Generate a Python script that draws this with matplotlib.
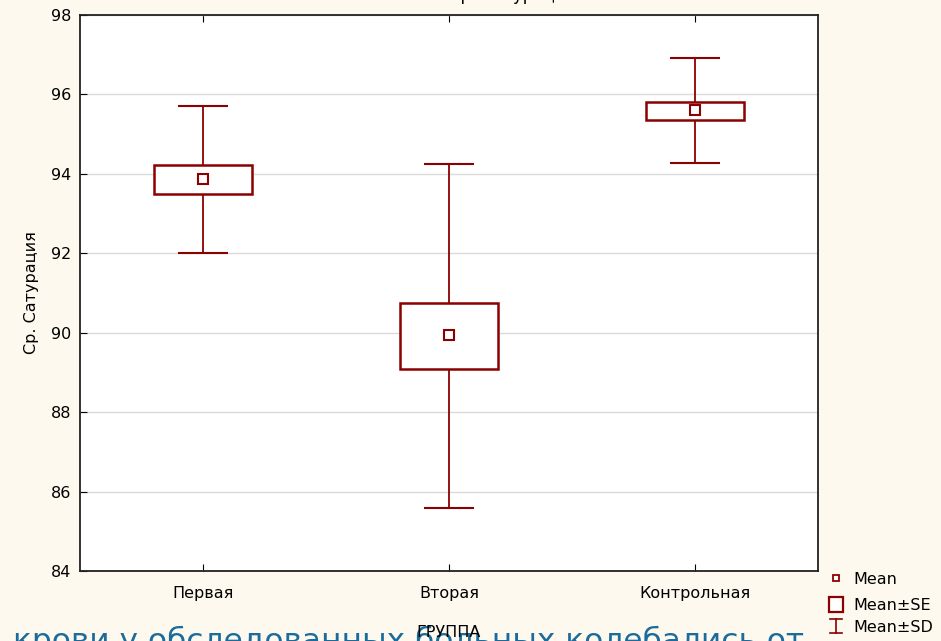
import numpy as np
import matplotlib
matplotlib.use('Agg')
import matplotlib.pyplot as plt
from matplotlib.patches import Rectangle
from matplotlib.lines import Line2D

plt.rcParams['font.family'] = ['DejaVu Sans']

# data
groups = ['Первая', 'Вторая', 'Контрольная']
means = [93.87, 89.94, 95.61]
se_low = [93.49, 89.09, 95.36]
se_high = [94.22, 90.75, 95.81]
sd_low = [92.01, 85.59, 94.27]
sd_high = [95.71, 94.25, 96.92]
yticks = [84, 86, 88, 90, 92, 94, 96, 98]

red = '#8b0000'
bg = '#fdf9ee'

fig = plt.figure(figsize=(9.41, 6.41), dpi=100, facecolor=bg)
ax = fig.add_axes([80/941, 70/641, 738/941, 556/641])
ax.set_facecolor('white')

x = np.arange(len(groups))
for i in x:
    ax.vlines(i, sd_low[i], se_low[i], color=red, lw=1.3, zorder=3)
    ax.vlines(i, se_high[i], sd_high[i], color=red, lw=1.3, zorder=3)
    ax.hlines([sd_low[i], sd_high[i]], i - 0.1, i + 0.1, color=red, lw=1.5, zorder=3)
    ax.add_patch(Rectangle((i - 0.2, se_low[i]), 0.4, se_high[i] - se_low[i],
                           facecolor='white', edgecolor=red, lw=1.8, zorder=4))
ax.plot(x, means, 's', ms=6.5, mfc='white', mec=red, mew=1.5, zorder=5)

ax.set_xlim(-0.5, 2.5)
ax.set_ylim(84, 98)
ax.set_yticks(yticks)
ax.set_xticks(x)
ax.set_xticklabels(groups, fontsize=11.5)
ax.tick_params(axis='y', direction='in', length=5, labelsize=11.5, pad=6)
ax.tick_params(axis='x', direction='in', length=5, top=True, pad=11)
ax.yaxis.grid(True, color='#dadada', lw=1)
ax.set_axisbelow(True)
for s in ax.spines.values():
    s.set_linewidth(1.3)
    s.set_color('#222222')

ax.set_ylabel('Ср. Сатурация', fontsize=11.5, labelpad=9)

# cut title at the top
fig.text(512/941, 1.0, 'Ср. Сатурация', ha='center', va='baseline', fontsize=12)

# overlapping page text and x label
fig.text(13/941, -9/641, 'крови у обследованных больных колебались от',
         color='#1b6c9d', fontsize=22.5, ha='left', va='baseline')
fig.text(449/941, 1 - 637/641, 'ГРУППА', ha='center', va='baseline', fontsize=11.5)

# legend
lx = 836/941
fig.add_artist(Line2D([lx], [1 - 578/641], marker='s', ms=5, mfc='white', mec=red, mew=1.3))
fig.add_artist(Rectangle((829/941, 1 - 612/641), 14/941, 15/641, facecolor='white',
                         edgecolor=red, lw=1.6, transform=fig.transFigure))
fig.add_artist(Line2D([lx, lx], [1 - 633/641, 1 - 619/641], color=red, lw=1.2))
fig.add_artist(Line2D([830/941, 842/941], [1 - 619/641] * 2, color=red, lw=1.2))
fig.add_artist(Line2D([830/941, 842/941], [1 - 633/641] * 2, color=red, lw=1.2))
for ty, lab in zip([579, 605, 628], ['Mean', 'Mean±SE', 'Mean±SD']):
    fig.text(853/941, 1 - ty/641, lab, fontsize=11.5, va='center', ha='left')

fig.savefig('out.png', dpi=100, facecolor=bg)
